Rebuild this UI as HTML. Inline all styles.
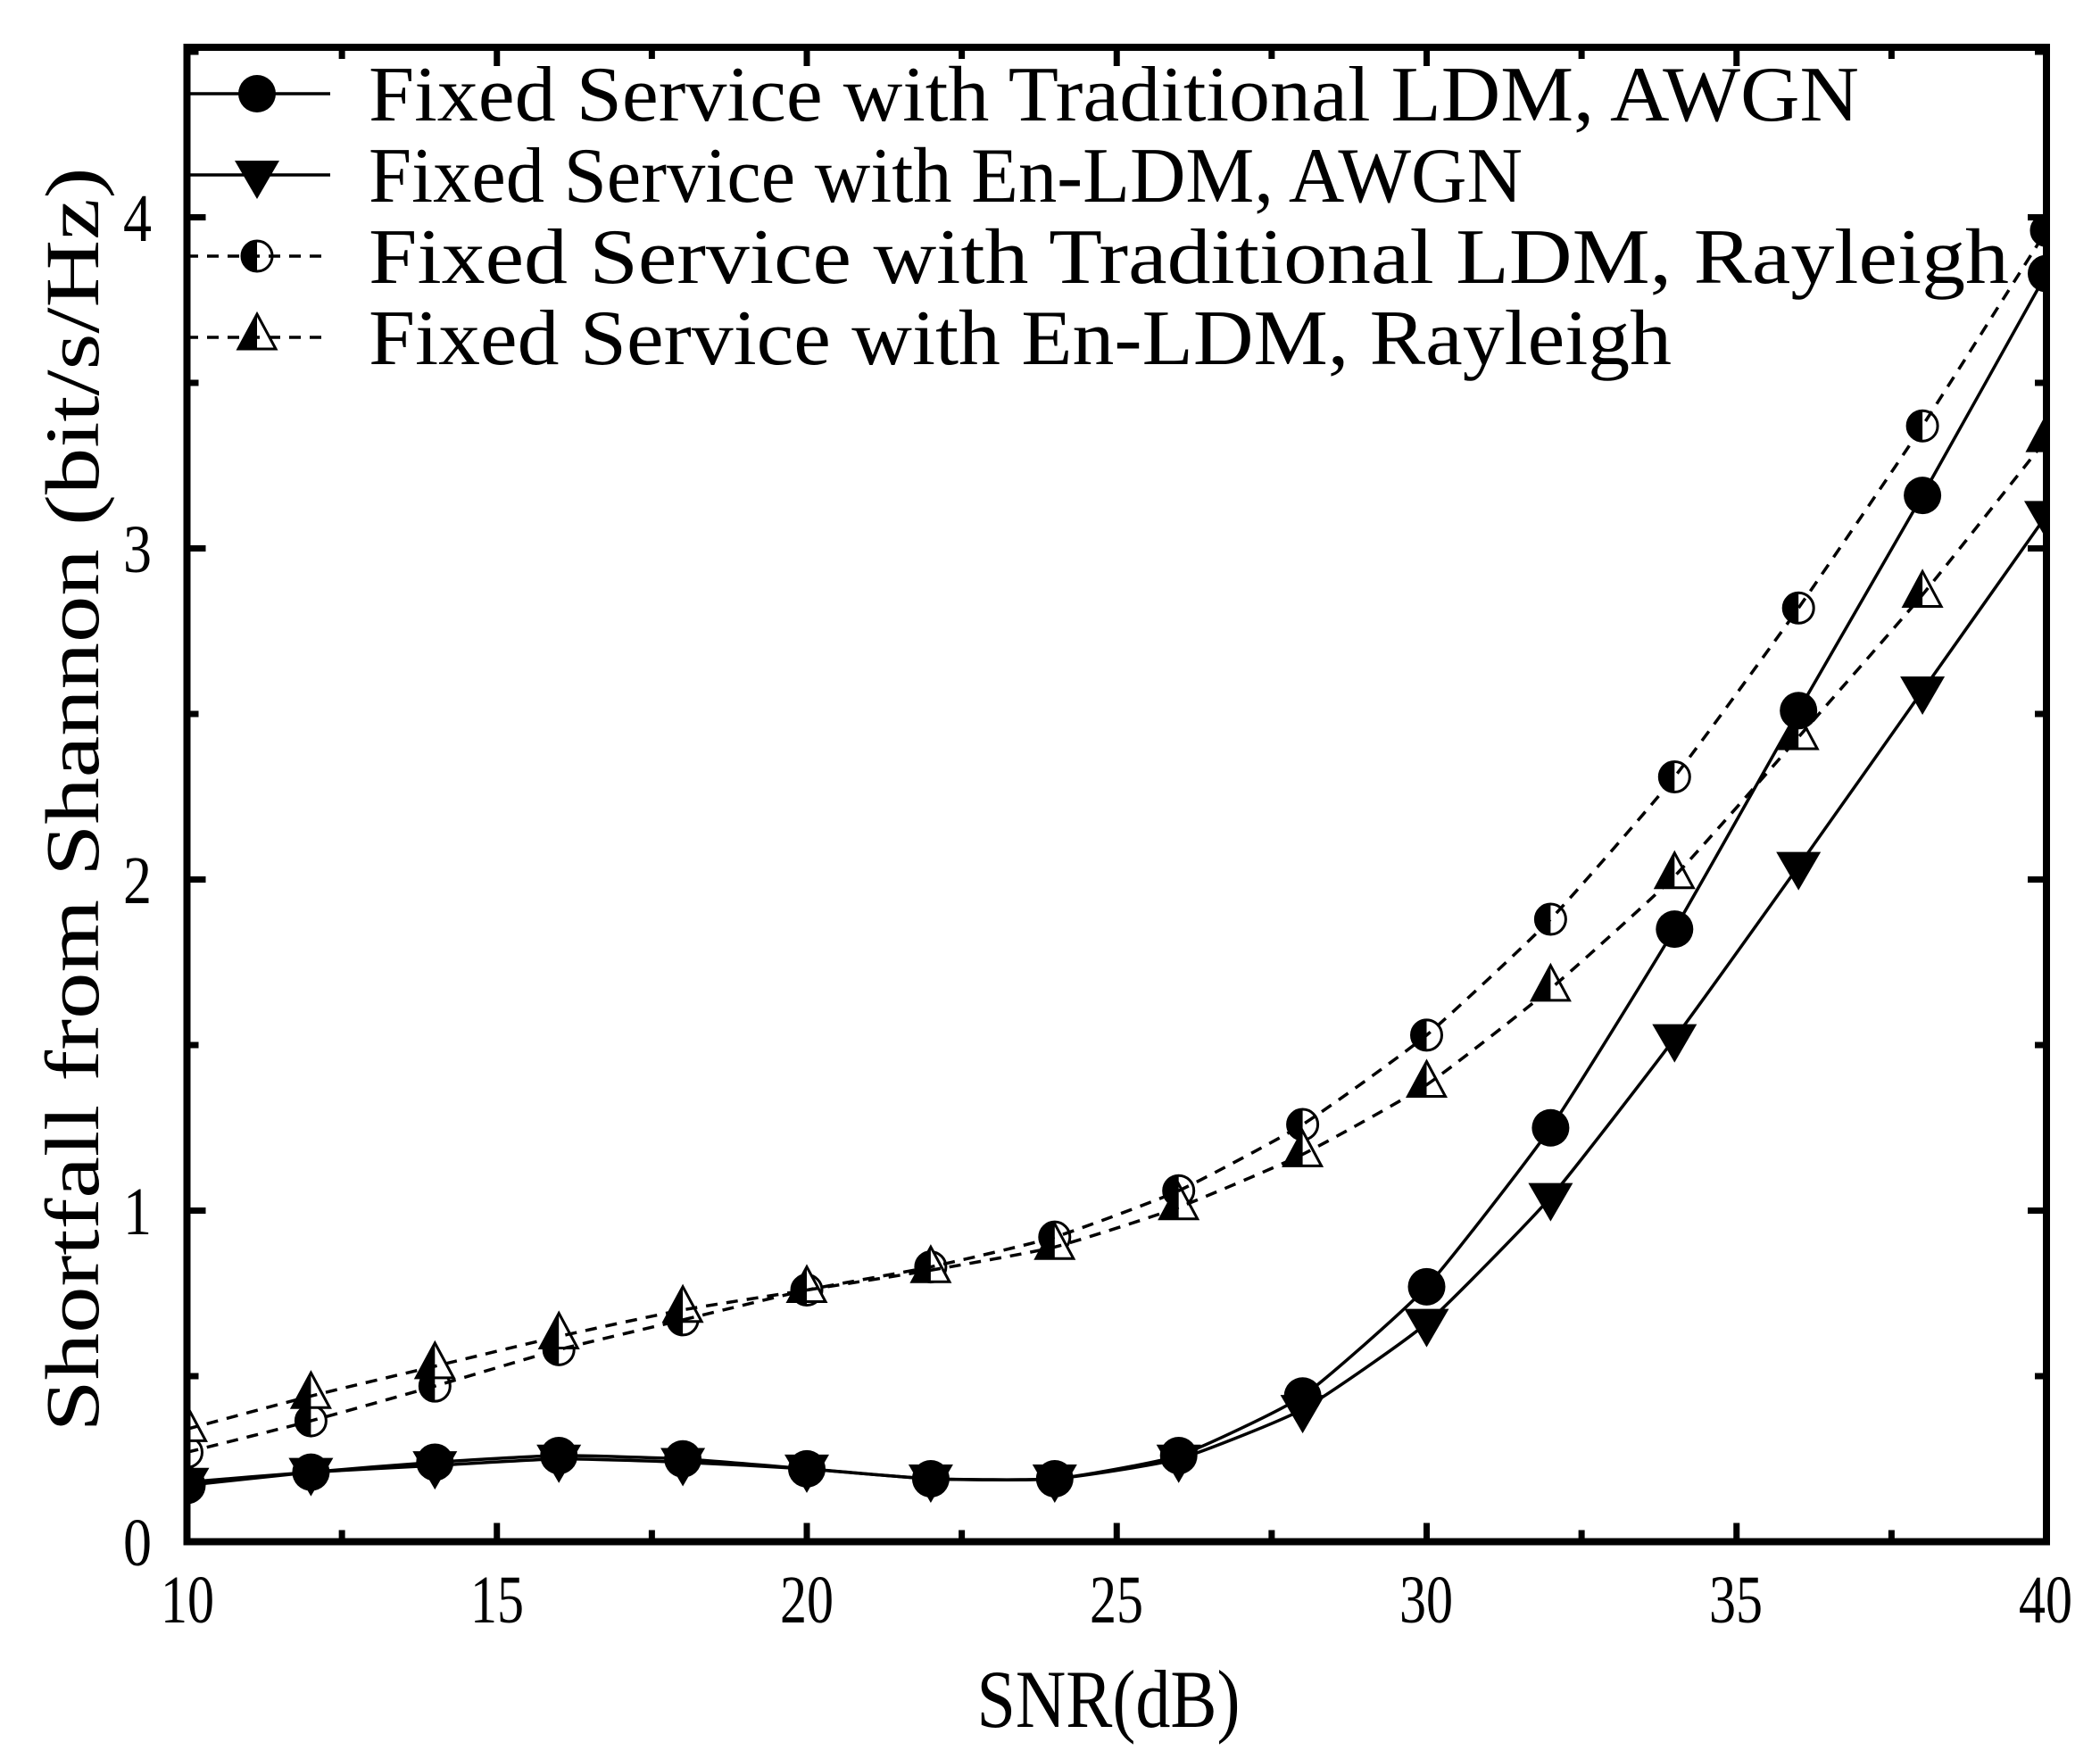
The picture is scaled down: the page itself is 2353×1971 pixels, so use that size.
<!DOCTYPE html>
<html><head><meta charset="utf-8"><style>
html,body{margin:0;padding:0;background:#fff;}
svg{display:block;}
</style></head><body>
<svg id="s" width="2353" height="1971" viewBox="0 0 2353 1971" xmlns="http://www.w3.org/2000/svg">
<defs><clipPath id="c"><rect x="209.5" y="53" width="2083.5" height="1674.5"/></clipPath></defs>
<rect width="2353" height="1971" fill="#fff"/>
<g id="plot" clip-path="url(#c)"></g>
<g id="ticks" stroke="#000" fill="none"></g>
<rect x="209.5" y="53" width="2083.5" height="1674.5" fill="none" stroke="#000" stroke-width="8"/>
<g font-family="Liberation Serif, serif" font-size="76" fill="#000">
<text x="210" y="1818" text-anchor="middle" textLength="60" lengthAdjust="spacingAndGlyphs">10</text>
<text x="557" y="1818" text-anchor="middle" textLength="60" lengthAdjust="spacingAndGlyphs">15</text>
<text x="904" y="1818" text-anchor="middle" textLength="60" lengthAdjust="spacingAndGlyphs">20</text>
<text x="1251" y="1818" text-anchor="middle" textLength="60" lengthAdjust="spacingAndGlyphs">25</text>
<text x="1598" y="1818" text-anchor="middle" textLength="60" lengthAdjust="spacingAndGlyphs">30</text>
<text x="1945" y="1818" text-anchor="middle" textLength="60" lengthAdjust="spacingAndGlyphs">35</text>
<text x="2292" y="1818" text-anchor="middle" textLength="60" lengthAdjust="spacingAndGlyphs">40</text>
<text x="170" y="1754" text-anchor="end" textLength="32" lengthAdjust="spacingAndGlyphs">0</text>
<text x="170" y="1383" text-anchor="end" textLength="32" lengthAdjust="spacingAndGlyphs">1</text>
<text x="170" y="1012" text-anchor="end" textLength="32" lengthAdjust="spacingAndGlyphs">2</text>
<text x="170" y="641" text-anchor="end" textLength="32" lengthAdjust="spacingAndGlyphs">3</text>
<text x="170" y="270" text-anchor="end" textLength="32" lengthAdjust="spacingAndGlyphs">4</text>
<text x="1242" y="1935" font-size="92" text-anchor="middle" textLength="295" lengthAdjust="spacingAndGlyphs">SNR(dB)</text>
<text transform="translate(110,896) rotate(-90)" font-size="86" text-anchor="middle" textLength="1417" lengthAdjust="spacingAndGlyphs">Shortfall from Shannon (bit/s/Hz)</text>
<text x="413" y="135" font-size="88" textLength="1670" lengthAdjust="spacingAndGlyphs">Fixed Service with Traditional LDM, AWGN</text>
<text x="413" y="226" font-size="88" textLength="1293" lengthAdjust="spacingAndGlyphs">Fixed Service with En-LDM, AWGN</text>
<text x="413" y="317" font-size="88" textLength="1838" lengthAdjust="spacingAndGlyphs">Fixed Service with Traditional LDM, Rayleigh</text>
<text x="413" y="408" font-size="88" textLength="1460" lengthAdjust="spacingAndGlyphs">Fixed Service with En-LDM, Rayleigh</text>
</g>
<g id="leg"></g>
</svg>
<script>
var NS="http://www.w3.org/2000/svg";
function X(v){return 209.5+(v-10)*69.45;}
function Y(v){return 1727.5-v*371;}
function el(p,t,a){var e=document.createElementNS(NS,t);for(var k in a)e.setAttribute(k,a[k]);p.appendChild(e);return e;}
var plot=document.getElementById('plot'),ticks=document.getElementById('ticks'),leg=document.getElementById('leg');
for(var i=0;i<=12;i++){var v=10+i*2.5,x=X(v),L=(i%2==0)?21:13;
 el(ticks,'line',{x1:x,y1:1727.5,x2:x,y2:1727.5-L,'stroke-width':7});
 el(ticks,'line',{x1:x,y1:53,x2:x,y2:53+L,'stroke-width':7});}
for(var i=0;i<=9;i++){var v=i*0.5,y=Y(v),L=(i%2==0)?21:13;
 el(ticks,'line',{x1:209.5,y1:y,x2:209.5+L,y2:y,'stroke-width':7});
 el(ticks,'line',{x1:2293,y1:y,x2:2293-L,y2:y,'stroke-width':7});}
var xs=[10,12,14,16,18,20,22,24,26,28,30,32,34,36,38,40];
var A=[0.17,0.21,0.24,0.26,0.25,0.22,0.19,0.19,0.26,0.44,0.77,1.25,1.85,2.51,3.16,3.83];
var B=[0.18,0.21,0.23,0.25,0.24,0.22,0.19,0.19,0.25,0.40,0.66,1.04,1.52,2.04,2.57,3.10];
var C=[0.27,0.365,0.47,0.58,0.67,0.76,0.83,0.92,1.06,1.26,1.53,1.88,2.31,2.82,3.37,3.96];
var D=[0.34,0.44,0.53,0.62,0.70,0.76,0.82,0.89,1.01,1.17,1.38,1.67,2.01,2.43,2.86,3.33];
function path(d){var p=xs.map(function(x,i){return [X(x),Y(d[i])];});
 var s='M'+p[0][0]+','+p[0][1],k=12;
 for(var i=0;i<p.length-1;i++){var p0=p[i-1]||p[i],p1=p[i],p2=p[i+1],p3=p[i+2]||p2;
  s+=' C'+(p1[0]+(p2[0]-p0[0])/k)+','+(p1[1]+(p2[1]-p0[1])/k)+' '+(p2[0]-(p3[0]-p1[0])/k)+','+(p2[1]-(p3[1]-p1[1])/k)+' '+p2[0]+','+p2[1];}
 return s;}
function circ(g,x,y){el(g,'circle',{cx:x,cy:y,r:21,fill:'#000'});}
function tri(g,x,y){el(g,'path',{d:'M'+(x-25)+','+(y-16)+' L'+(x+25)+','+(y-16)+' L'+x+','+(y+27)+'Z',fill:'#000'});}
function hcirc(g,x,y){el(g,'circle',{cx:x,cy:y,r:17,fill:'#fff',stroke:'#000','stroke-width':3});
 el(g,'path',{d:'M'+x+','+(y-17)+' A17,17 0 0 0 '+x+','+(y+17)+'Z',fill:'#000'});}
function htri(g,x,y){el(g,'path',{d:'M'+x+','+(y-26)+' L'+(x+21)+','+(y+13)+' L'+(x-21)+','+(y+13)+'Z',fill:'#fff',stroke:'#000','stroke-width':3});
 el(g,'path',{d:'M'+x+','+(y-26)+' L'+x+','+(y+14)+' L'+(x-22)+','+(y+14)+'Z',fill:'#000'});}
function series(d,m){xs.forEach(function(x,i){m(plot,X(x),Y(d[i]));});}
series(C,hcirc);series(D,htri);series(A,circ);series(B,tri);
el(plot,'path',{d:path(A),fill:'none',stroke:'#000','stroke-width':3.5});
el(plot,'path',{d:path(B),fill:'none',stroke:'#000','stroke-width':3.5});
el(plot,'path',{d:path(C),fill:'none',stroke:'#000','stroke-width':3.5,'stroke-dasharray':'13,10'});
el(plot,'path',{d:path(D),fill:'none',stroke:'#000','stroke-width':3.5,'stroke-dasharray':'13,10'});
var rows=[105,196,287,378];
el(leg,'line',{x1:209,y1:rows[0],x2:370,y2:rows[0],stroke:'#000','stroke-width':3.5});circ(leg,288,rows[0]);
el(leg,'line',{x1:209,y1:rows[1],x2:370,y2:rows[1],stroke:'#000','stroke-width':3.5});tri(leg,288,rows[1]);
hcirc(leg,288,rows[2]);el(leg,'line',{x1:209,y1:rows[2],x2:370,y2:rows[2],stroke:'#000','stroke-width':3.5,'stroke-dasharray':'13,10'});
htri(leg,288,rows[3]);el(leg,'line',{x1:209,y1:rows[3],x2:370,y2:rows[3],stroke:'#000','stroke-width':3.5,'stroke-dasharray':'13,10'});
</script>
</body></html>
